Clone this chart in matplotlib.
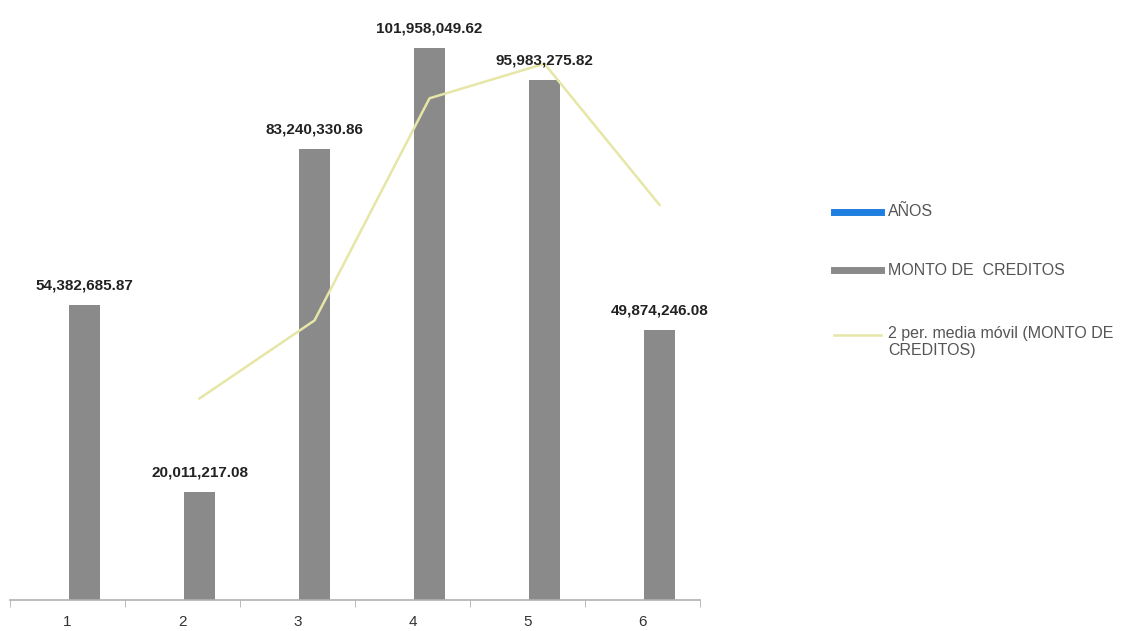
import matplotlib
matplotlib.use("Agg")
import matplotlib.pyplot as plt
from matplotlib.lines import Line2D
import numpy as np

plt.rcParams['font.family'] = ['Liberation Sans', 'DejaVu Sans']

categories = [1, 2, 3, 4, 5, 6]
anos = [1, 2, 3, 4, 5, 6]
monto = [54382685.87, 20011217.08, 83240330.86, 101958049.62, 95983275.82, 49874246.08]
monto_labels = ["54,382,685.87", "20,011,217.08", "83,240,330.86",
                "101,958,049.62", "95,983,275.82", "49,874,246.08"]
media_movil = [np.nan, 37.2e6, 51.6e6, 92.6e6, 98.97e6, 72.93e6]

W, H = 1129, 631
fig = plt.figure(figsize=(W / 100, H / 100), dpi=100)
ax = fig.add_axes([10 / W, 31 / H, 690 / W, 596 / H])

x = np.array(categories, dtype=float)
bw = 0.27
off = 0.148
ax.bar(x + off - bw, anos, width=bw, color='#1f7fe0', label='AÑOS')
ax.bar(x + off, monto, width=bw, color='#8a8a8a', label='MONTO DE  CREDITOS')
ax.plot(x + off, media_movil, color='#e6e6a6', lw=1.8,
        label='2 per. media móvil (MONTO DE CREDITOS)')

for xi, v, t in zip(x, monto, monto_labels):
    ax.annotate(t, (xi + off, v), xytext=(0, 9), textcoords='offset points',
                ha='center', va='bottom', fontsize=11, fontweight='bold', color='#222222')

ax.set_xlim(0.5, 6.5)
ax.set_ylim(0, 110e6)
for s in ['top', 'right', 'left']:
    ax.spines[s].set_visible(False)
ax.spines['bottom'].set_color('#b0b0b0')
ax.spines['bottom'].set_linewidth(1.2)
ax.set_yticks([])
ax.set_xticks(categories)
ax.set_xticklabels([str(c) for c in categories], fontsize=11, color='#333333')
ax.tick_params(axis='x', which='major', length=0, pad=11)
ax.set_xticks(np.arange(0.5, 7.0, 1.0), minor=True)
ax.tick_params(axis='x', which='minor', length=5, color='#b0b0b0', direction='out')

# legend drawn manually
leg_items = [
    (212, '#1f7fe0', 5, 'AÑOS'),
    (270, '#8a8a8a', 5, 'MONTO DE  CREDITOS'),
    (335, '#e6e6a6', 1.8, '2 per. media móvil (MONTO DE\nCREDITOS)'),
]
for ypx, col, lw, lab in leg_items:
    yf = 1 - ypx / H
    fig.add_artist(Line2D([834 / W, 881 / W], [yf, yf], color=col, lw=lw,
                          transform=fig.transFigure))
    if '\n' in lab:
        fig.text(888 / W, yf + 9 / H, lab, fontsize=11.5, color='#555555', va='top',
                 ha='left', linespacing=1.2, transform=fig.transFigure)
    else:
        fig.text(888 / W, yf, lab, fontsize=11.5, color='#555555', va='center',
                 ha='left', transform=fig.transFigure)

fig.savefig('out.png', dpi=100)
